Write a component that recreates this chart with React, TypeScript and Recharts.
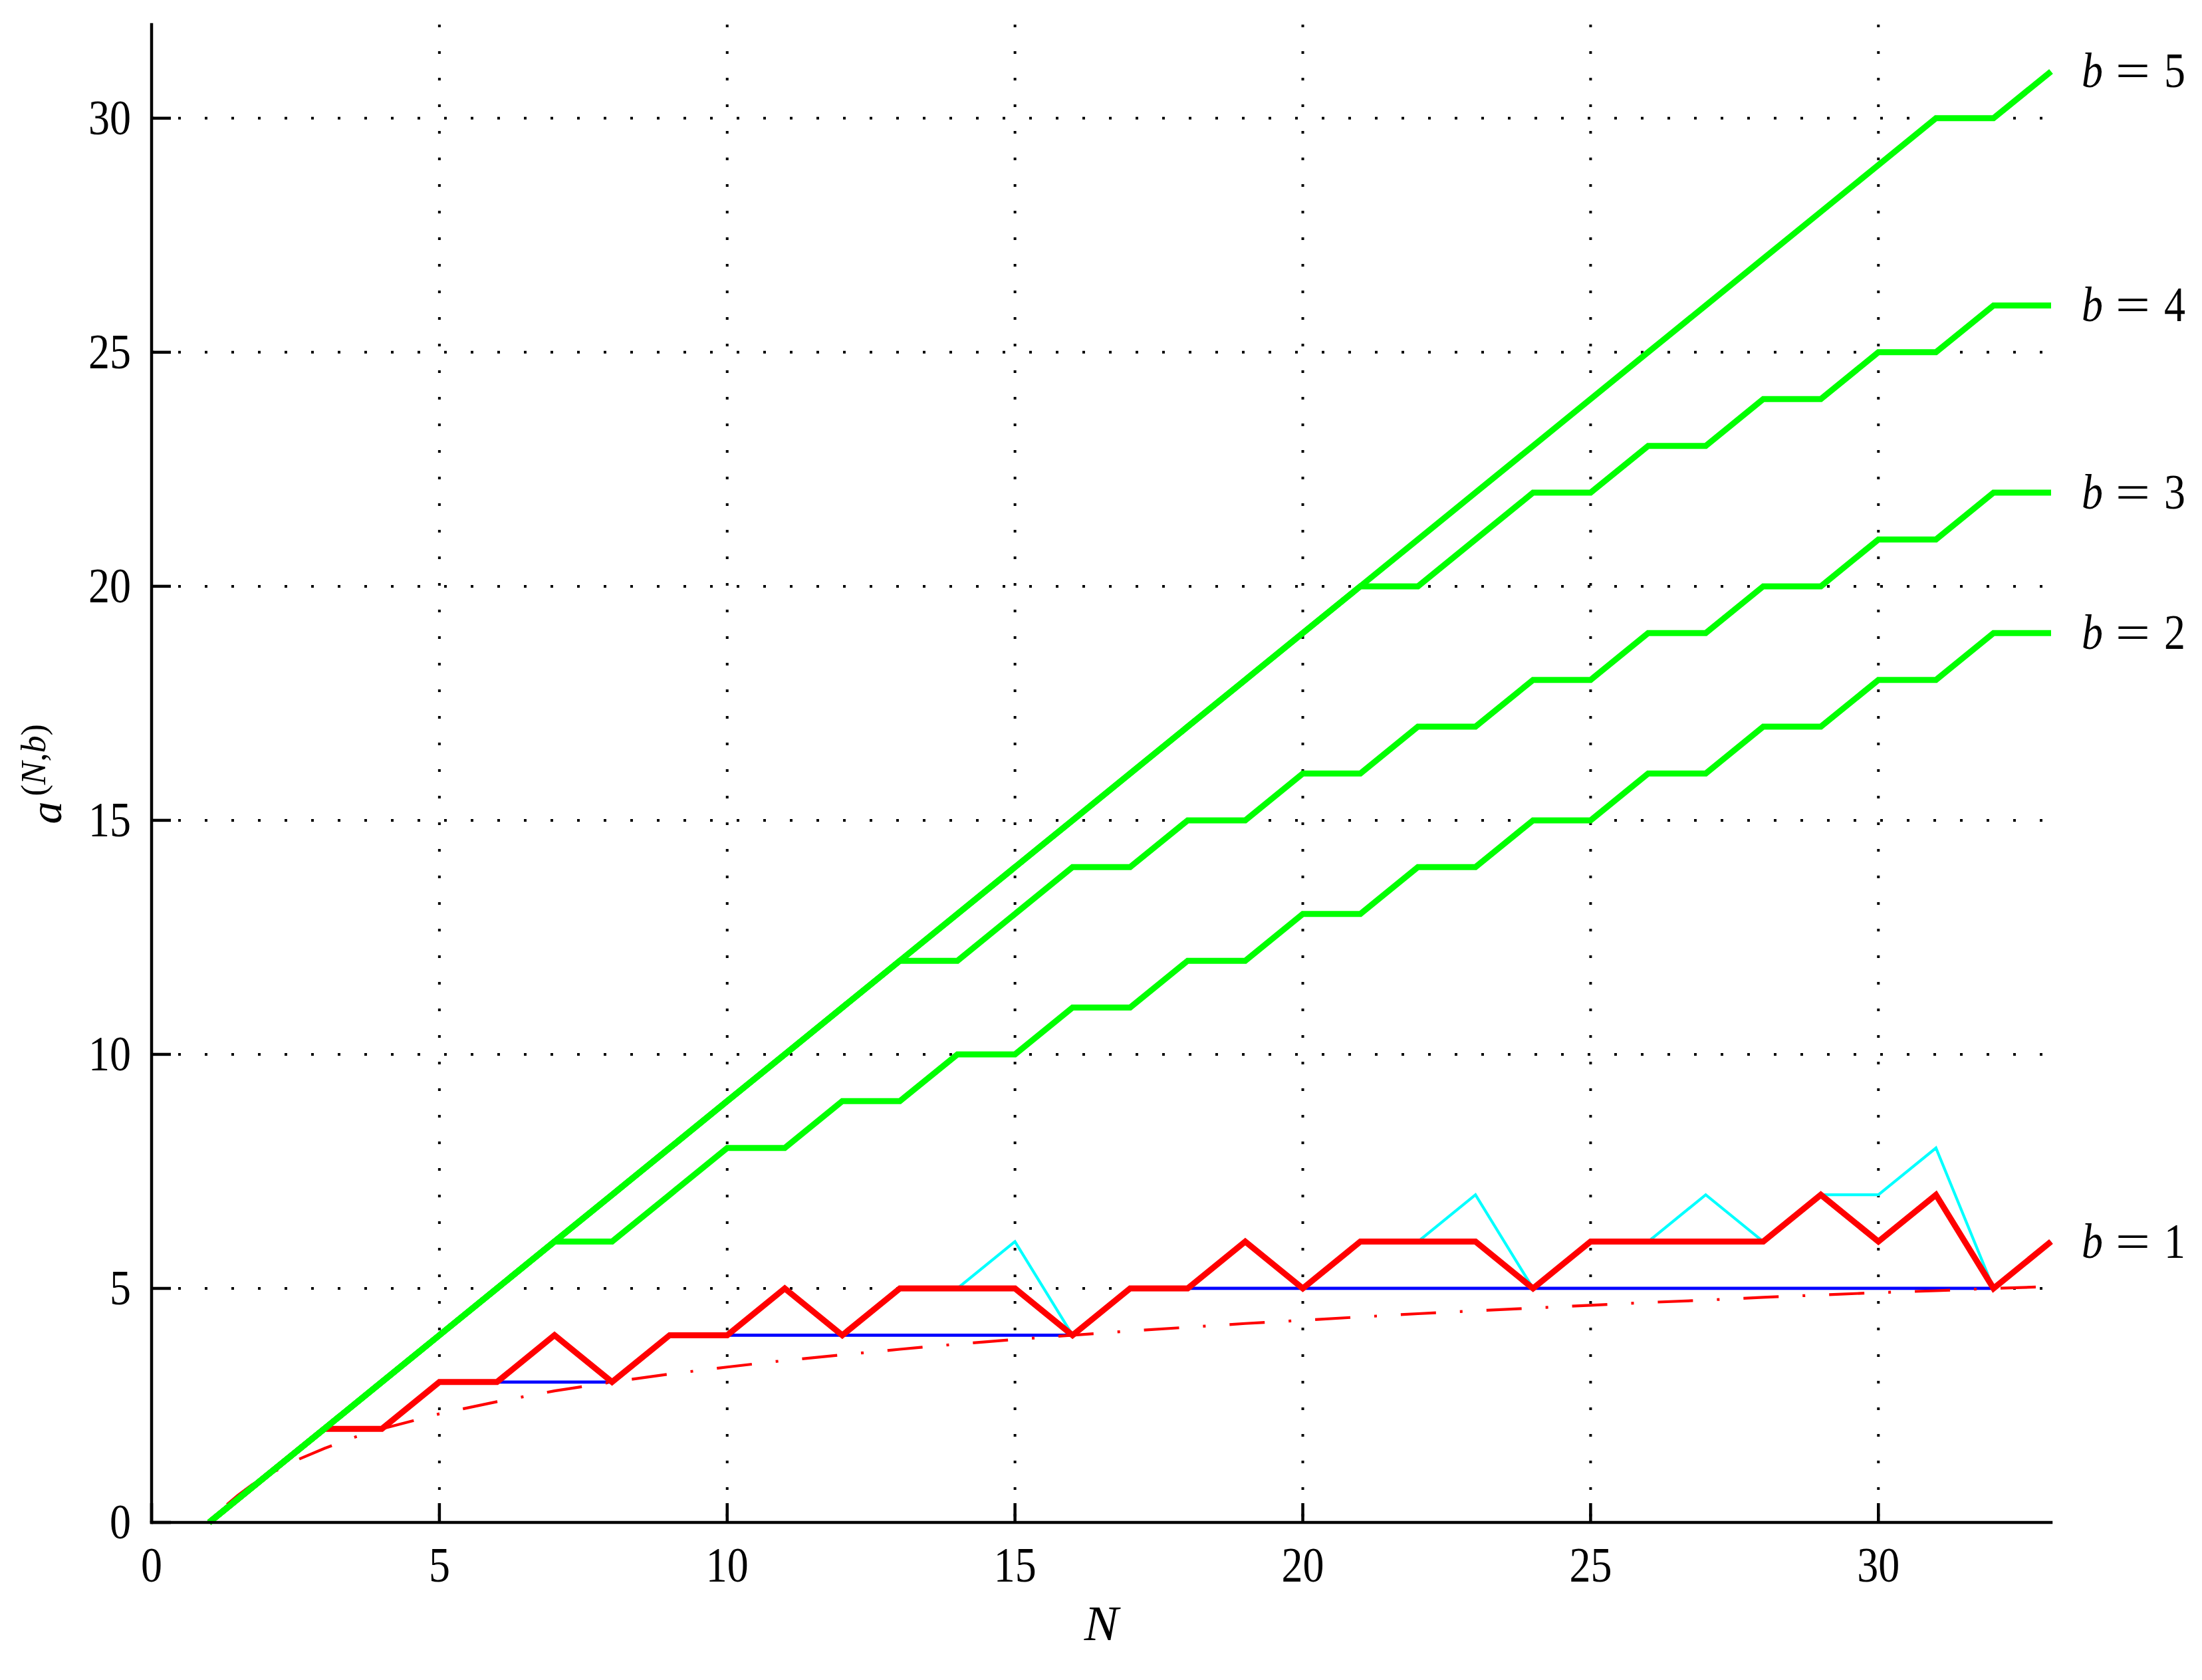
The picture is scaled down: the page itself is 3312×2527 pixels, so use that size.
import React from 'react';
import { LineChart, Line, XAxis, YAxis, CartesianGrid } from 'recharts';

const FONT = '"Liberation Serif", "Times New Roman", serif';

// N = 1..33
const N_VALUES = [1, 2, 3, 4, 5, 6, 7, 8, 9, 10, 11, 12, 13, 14, 15, 16, 17, 18, 19, 20, 21, 22, 23, 24, 25, 26, 27, 28, 29, 30, 31, 32, 33];

// green curves
const B5 = [0, 1, 2, 3, 4, 5, 6, 7, 8, 9, 10, 11, 12, 13, 14, 15, 16, 17, 18, 19, 20, 21, 22, 23, 24, 25, 26, 27, 28, 29, 30, 30, 31];
const B4 = [0, 1, 2, 3, 4, 5, 6, 7, 8, 9, 10, 11, 12, 13, 14, 15, 16, 17, 18, 19, 20, 20, 21, 22, 22, 23, 23, 24, 24, 25, 25, 26, 26];
const B3 = [0, 1, 2, 3, 4, 5, 6, 7, 8, 9, 10, 11, 12, 12, 13, 14, 14, 15, 15, 16, 16, 17, 17, 18, 18, 19, 19, 20, 20, 21, 21, 22, 22];
const B2 = [0, 1, 2, 3, 4, 5, 6, 6, 7, 8, 8, 9, 9, 10, 10, 11, 11, 12, 12, 13, 13, 14, 14, 15, 15, 16, 16, 17, 17, 18, 18, 19, 19];

// b = 1 (thick red), cyan variant, blue staircase
const B1 = [0, 1, 2, 2, 3, 3, 4, 3, 4, 4, 5, 4, 5, 5, 5, 4, 5, 5, 6, 5, 6, 6, 6, 5, 6, 6, 6, 6, 7, 6, 7, 5, 6];
const B1_CYAN = [0, 1, 2, 2, 3, 3, 4, 3, 4, 4, 5, 4, 5, 5, 6, 4, 5, 5, 6, 5, 6, 6, 7, 5, 6, 6, 7, 6, 7, 7, 8, 5, 6];
const B1_BLUE = [0, 1, 2, 2, 3, 3, 3, 3, 4, 4, 4, 4, 4, 4, 4, 4, 5, 5, 5, 5, 5, 5, 5, 5, 5, 5, 5, 5, 5, 5, 5, 5, 6];

// red dash-dot lower curve
const LOW_N = [1, 1.25, 1.5, 1.75, 2, 2.5, 3, 3.5, 4, 5, 6, 7, 8, 9, 10, 11, 12, 13, 14, 15, 16, 17, 18, 19, 20, 21, 22, 23, 24, 25, 26, 27, 28, 29, 30, 31, 32, 33];
const LOW_V = [0, 0.32, 0.58, 0.81, 1, 1.32, 1.58, 1.81, 2, 2.32, 2.58, 2.81, 3, 3.17, 3.32, 3.46, 3.58, 3.7, 3.81, 3.91, 4, 4.09, 4.17, 4.25, 4.32, 4.39, 4.46, 4.52, 4.58, 4.64, 4.7, 4.75, 4.81, 4.86, 4.91, 4.95, 5, 5.04];

const X_TICKS = [0, 5, 10, 15, 20, 25, 30];
const Y_TICKS = [0, 5, 10, 15, 20, 25, 30];

const toData = (xs: number[], ys: number[]) => xs.map((n, i) => ({ n, v: ys[i] }));

const dataB5 = toData(N_VALUES, B5);
const dataB4 = toData(N_VALUES, B4);
const dataB3 = toData(N_VALUES, B3);
const dataB2 = toData(N_VALUES, B2);
const dataB1 = toData(N_VALUES, B1);
const dataCyan = toData(N_VALUES, B1_CYAN);
const dataBlue = toData(N_VALUES, B1_BLUE);
const dataLow = toData(LOW_N, LOW_V);

const TICK_FS = 64;
const TICK_SY = 1.15;

const XTick = (props: any) => {
  const { x, y, payload } = props;
  return (
    <g>
      <line x1={x} y1={y} x2={x} y2={y - 29} stroke="#000" strokeWidth={4.5} />
      <text
        transform={`translate(${x}, ${y + 89}) scale(1, ${TICK_SY})`}
        textAnchor="middle"
        fontFamily={FONT}
        fontSize={TICK_FS}
        fill="#000"
      >
        {payload.value}
      </text>
    </g>
  );
};

const YTick = (props: any) => {
  const { x, y, payload } = props;
  return (
    <g>
      <line x1={x} y1={y} x2={x + 29} y2={y} stroke="#000" strokeWidth={4.5} />
      <text
        transform={`translate(${x - 31}, ${y + 24}) scale(1, ${TICK_SY})`}
        textAnchor="end"
        fontFamily={FONT}
        fontSize={TICK_FS}
        fill="#000"
      >
        {payload.value}
      </text>
    </g>
  );
};

const XLabel = (props: any) => {
  const vb = props.viewBox || {};
  const cx = (vb.x ?? 228) + (vb.width ?? 2857) / 2;
  const y = vb.y ?? 2290;
  return (
    <text
      transform={`translate(${cx}, ${y + 177}) scale(1.1, 1.05)`}
      textAnchor="middle"
      fontFamily={FONT}
      fontSize={70}
      fontStyle="italic"
      fill="#000"
    >
      N
    </text>
  );
};

const YLabel = (props: any) => {
  const vb = props.viewBox || {};
  const px = (vb.x ?? 78) + (vb.width ?? 150);
  const cy = (vb.y ?? 37) + (vb.height ?? 2253) / 2;
  return (
    <text transform={`translate(${px - 136}, ${cy + 76}) rotate(-90)`} fontFamily={FONT} fill="#000">
      <tspan fontStyle="italic" fontSize={68}>a</tspan>
      <tspan fontSize={52} dy={-24} dx={8}>(</tspan>
      <tspan fontSize={52} fontStyle="italic">N</tspan>
      <tspan fontSize={52}>,</tspan>
      <tspan fontSize={52} fontStyle="italic">b</tspan>
      <tspan fontSize={52}>)</tspan>
    </text>
  );
};

const endLabel = (num: string, lastIndex: number) => (props: any) => {
  if (props.index !== lastIndex) return null;
  const { x, y } = props;
  return (
    <g transform={`translate(${x + 46}, ${y + 24}) scale(1, ${TICK_SY})`} fill="#000">
      <text x={0} y={0} fontFamily={FONT} fontSize={TICK_FS} fontStyle="italic">b</text>
      <text transform="translate(77, 0) scale(1.45, 1)" x={0} y={0} textAnchor="middle" fontFamily={FONT} fontSize={TICK_FS}>=</text>
      <text x={124} y={0} fontFamily={FONT} fontSize={TICK_FS}>{num}</text>
    </g>
  );
};

const LAST = N_VALUES.length - 1;

export default function App() {
  return (
    <div style={{ position: 'absolute', left: 0, top: 0, width: 3312, height: 2527, background: '#fff' }}>
      <LineChart
        width={3312}
        height={2527}
        margin={{ top: 37, right: 227, bottom: 137, left: 78 }}
      >
        <CartesianGrid stroke="#000" strokeWidth={4} strokeDasharray="4 36" syncWithTicks />
        <XAxis
          type="number"
          dataKey="n"
          domain={[0, 33]}
          ticks={X_TICKS}
          allowDecimals={false}
          height={100}
          tickSize={0}
          tickMargin={0}
          tickLine={false}
          tick={<XTick />}
          axisLine={{ stroke: '#000', strokeWidth: 4.5, strokeLinecap: 'square' }}
          label={{ content: XLabel }}
        />
        <YAxis
          type="number"
          dataKey="v"
          domain={[0, 32]}
          ticks={Y_TICKS}
          width={150}
          tickSize={0}
          tickMargin={0}
          tickLine={false}
          tick={<YTick />}
          axisLine={{ stroke: '#000', strokeWidth: 4.5, strokeLinecap: 'square' }}
          label={{ content: YLabel }}
        />
        <Line data={dataBlue} dataKey="v" type="linear" stroke="#0000ff" strokeWidth={4.8} dot={false} activeDot={false} isAnimationActive={false} />
        <Line data={dataCyan} dataKey="v" type="linear" stroke="#00ffff" strokeWidth={4.2} dot={false} activeDot={false} isAnimationActive={false} />
        <Line data={dataLow} dataKey="v" type="linear" stroke="#ff0000" strokeWidth={4.2} strokeDasharray="53 36 4 36" strokeDashoffset={91} dot={false} activeDot={false} isAnimationActive={false} />
        <Line data={dataB1} dataKey="v" type="linear" stroke="#ff0000" strokeWidth={9} dot={false} activeDot={false} isAnimationActive={false} label={endLabel('1', LAST)} />
        <Line data={dataB2} dataKey="v" type="linear" stroke="#00ff00" strokeWidth={9} dot={false} activeDot={false} isAnimationActive={false} label={endLabel('2', LAST)} />
        <Line data={dataB3} dataKey="v" type="linear" stroke="#00ff00" strokeWidth={9} dot={false} activeDot={false} isAnimationActive={false} label={endLabel('3', LAST)} />
        <Line data={dataB4} dataKey="v" type="linear" stroke="#00ff00" strokeWidth={9} dot={false} activeDot={false} isAnimationActive={false} label={endLabel('4', LAST)} />
        <Line data={dataB5} dataKey="v" type="linear" stroke="#00ff00" strokeWidth={9} dot={false} activeDot={false} isAnimationActive={false} label={endLabel('5', LAST)} />
      </LineChart>
    </div>
  );
}
